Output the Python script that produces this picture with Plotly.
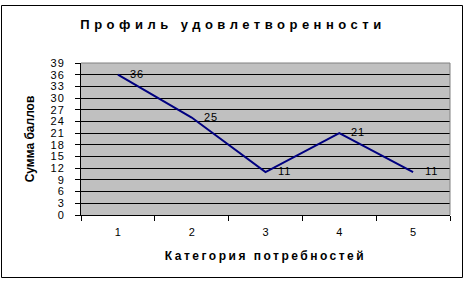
import plotly.graph_objects as go

categories = ["1", "2", "3", "4", "5"]
values = [36, 25, 11, 21, 11]
y_ticks = list(range(0, 40, 3))

W, H = 470, 283
ml, mr, mt, mb = 81, 20, 63, 68
pw, ph = W - ml - mr, H - mt - mb

FONT = "Liberation Sans, Arial, sans-serif"

def spaced(t, px):
    return f'<span style="letter-spacing:{px}px">{t}</span>'

fig = go.Figure()
fig.add_trace(go.Scatter(
    x=categories, y=values, mode="lines",
    line=dict(color="#000080", width=2), hoverinfo="skip", showlegend=False,
))

for i, v in enumerate(values):
    fig.add_annotation(x=i, y=v, text=spaced(str(v), 1), showarrow=False,
                       xanchor="left", yanchor="middle", xshift=10, yshift=1,
                       font=dict(family=FONT, size=11, color="#000000"))

def px_to_paper_x(px):
    return (px - ml) / pw

def py_to_paper_y(py):
    return (H - mb - py) / ph

fig.add_shape(type="rect", xref="paper", yref="paper",
              x0=px_to_paper_x(1.5), x1=px_to_paper_x(462.5),
              y0=py_to_paper_y(277.5), y1=py_to_paper_y(5.5),
              line=dict(color="#000000", width=1), layer="below")
fig.add_shape(type="line", xref="x domain", yref="y domain", x0=0, x1=1, y0=1, y1=1,
              line=dict(color="#808080", width=1))
fig.add_shape(type="line", xref="x domain", yref="y domain", x0=1, x1=1, y0=0, y1=1,
              line=dict(color="#808080", width=1))

fig.update_layout(
    width=W, height=H,
    margin=dict(l=ml, r=mr, t=mt, b=mb),
    paper_bgcolor="#FFFFFF", plot_bgcolor="#C0C0C0",
    font=dict(family=FONT, size=11, color="#000000"),
    title=dict(text="<b>" + spaced("Профиль удовлетворенности", 4.5) + "</b>",
               x=233 / W, xanchor="center", xref="container",
               y=1 - 24 / H, yanchor="middle", yref="container",
               font=dict(family=FONT, size=13, color="#000000")),
    xaxis=dict(type="category", range=[-0.5, len(categories) - 0.5],
               tickson="boundaries", ticks="outside", ticklen=5,
               tickcolor="#000000", showline=True, linecolor="#000000", linewidth=1,
               showgrid=False, ticklabelstandoff=7,
               tickfont=dict(family=FONT, size=11),
               title=dict(text="<b>" + spaced("Категория потребностей", 2.5) + "</b>",
                          standoff=14, font=dict(family=FONT, size=12))),
    yaxis=dict(range=[0, 39], tickvals=y_ticks, ticktext=[spaced(str(t), 1) for t in y_ticks],
               ticks="outside", ticklen=5, tickcolor="#000000",
               showline=True, linecolor="#000000", linewidth=1,
               showgrid=True, gridcolor="#000000", gridwidth=1, zeroline=False,
               ticklabelstandoff=8, tickfont=dict(family=FONT, size=11),
               title=dict(text="<b>Сумма баллов</b>", standoff=13,
                          font=dict(family=FONT, size=12))),
)

fig.write_html("out.html")
